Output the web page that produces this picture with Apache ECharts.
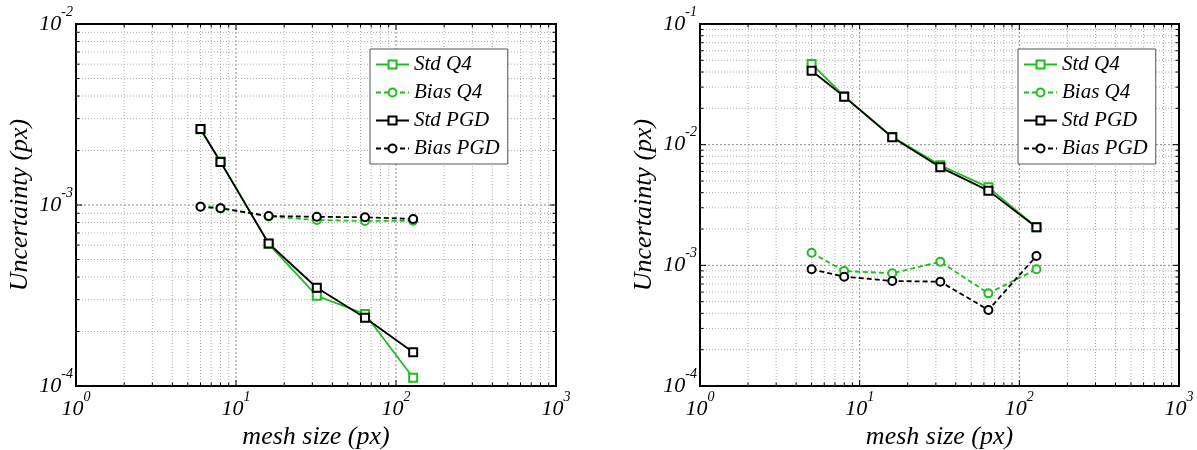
<!DOCTYPE html>
<html>
<head>
<meta charset="utf-8">
<script src="https://cdn.jsdelivr.net/npm/echarts@6/dist/echarts.min.js"></script>
<style>html,body{margin:0;padding:0;background:#fff;}#c{width:1197px;height:450px;}</style>
</head>
<body>
<div id="c"></div>
<script>
// ---- data ----
const seriesNames = ['Std Q4', 'Bias Q4', 'Std PGD', 'Bias PGD'];

const leftMesh    = [6, 8, 16, 32, 64, 128];
const leftStdQ4   = [2.62e-3, 1.74e-3, 6.10e-4, 3.15e-4, 2.50e-4, 1.11e-4];
const leftBiasQ4  = [9.80e-4, 9.60e-4, 8.65e-4, 8.26e-4, 8.16e-4, 8.19e-4];
const leftStdPGD  = [2.63e-3, 1.73e-3, 6.13e-4, 3.49e-4, 2.38e-4, 1.535e-4];
const leftBiasPGD = [9.79e-4, 9.59e-4, 8.69e-4, 8.61e-4, 8.55e-4, 8.37e-4];

const rightMesh    = [5, 8, 16, 32, 64, 128];
const rightStdQ4   = [4.66e-2, 2.52e-2, 1.16e-2, 6.75e-3, 4.43e-3, 2.07e-3];
const rightBiasQ4  = [1.27e-3, 8.98e-4, 8.59e-4, 1.07e-3, 5.86e-4, 9.27e-4];
const rightStdPGD  = [4.10e-2, 2.50e-2, 1.15e-2, 6.49e-3, 4.16e-3, 2.07e-3];
const rightBiasPGD = [9.27e-4, 8.05e-4, 7.42e-4, 7.32e-4, 4.27e-4, 1.195e-3];

const xRange = [1, 1000];
const leftYRange = [1e-4, 1e-2];
const rightYRange = [1e-4, 1e-1];

const xAxisTitle = 'mesh size (px)';
const yAxisTitle = 'Uncertainty (px)';

// ---- styles ----
const GREEN = '#1ebe1e';
const BLACK = '#000000';
const SERIF = '"Liberation Serif", "DejaVu Serif", serif';

function decadeValues(r, includeMajor) {
  const out = [];
  const k0 = Math.round(Math.log10(r[0])), k1 = Math.round(Math.log10(r[1]));
  for (let k = k0; k < k1; k++) {
    for (let m = 1; m <= 9; m++) {
      if (m === 1 && k === k0) continue;
      if ((m === 1) === includeMajor) out.push(m * Math.pow(10, k));
    }
  }
  return out;
}

const richLabel = {
  b: {fontSize: 22, fontStyle: 'italic', fontFamily: SERIF, color: '#000', lineHeight: 22},
  s: {fontSize: 14, fontStyle: 'italic', fontFamily: SERIF, color: '#000', lineHeight: 14, padding: [0, 0, 24, 0]}
};
function powFmt(v) {
  const e = Math.round(Math.log10(v));
  return '{b|10}{s|' + e + '}';
}

function gridSeries(idx, xr, yr, vertical, major) {
  const vals = vertical ? decadeValues(xr, major) : decadeValues(yr, major);
  return {
    type: 'custom', xAxisIndex: idx, yAxisIndex: idx, silent: true, z: 1,
    data: vals.map(v => vertical ? [v, yr[0]] : [xr[0], v]),
    renderItem: function (params, api) {
      const v = api.value(vertical ? 0 : 1);
      let a, b;
      if (vertical) { a = api.coord([v, yr[0]]); b = api.coord([v, yr[1]]); }
      else { a = api.coord([xr[0], v]); b = api.coord([xr[1], v]); }
      const L = major ? 6 : 3.5;
      const gs = major ? {stroke: '#8a8a8a', lineWidth: 1, lineDash: [2, 2]} : {stroke: '#b0b0b0', lineWidth: 1, lineDash: [1, 2]};
      const ts = {stroke: '#000', lineWidth: 1};
      const children = [{type: 'line', shape: {x1: a[0], y1: a[1], x2: b[0], y2: b[1]}, style: gs}];
      if (vertical) {
        children.push({type: 'line', shape: {x1: a[0], y1: a[1], x2: a[0], y2: a[1] - L}, style: ts});
        children.push({type: 'line', shape: {x1: b[0], y1: b[1], x2: b[0], y2: b[1] + L}, style: ts});
      } else {
        children.push({type: 'line', shape: {x1: a[0], y1: a[1], x2: a[0] + L, y2: a[1]}, style: ts});
        children.push({type: 'line', shape: {x1: b[0], y1: b[1], x2: b[0] - L, y2: b[1]}, style: ts});
      }
      return {type: 'group', children: children};
    }
  };
}

function dataSeries(idx, name, xs, ys, color, dashed, symbol) {
  return {
    type: 'line', name: name, xAxisIndex: idx, yAxisIndex: idx, z: 3,
    data: xs.map((x, i) => [x, ys[i]]),
    symbol: symbol, symbolSize: 8,
    lineStyle: {color: color, width: 1.8, type: dashed ? [5, 3] : 'solid'},
    itemStyle: {color: color, borderColor: color, borderWidth: 1.6},
    emphasis: {disabled: true},
    animation: false
  };
}

function axisPair(idx, yr) {
  const x = {
    type: 'log', logBase: 10, gridIndex: idx, min: xRange[0], max: xRange[1],
    axisLine: {show: false}, axisTick: {show: false}, splitLine: {show: false},
    axisLabel: {formatter: powFmt, rich: richLabel, margin: 12},
    name: xAxisTitle, nameLocation: 'middle', nameGap: 38, nameMoveOverlap: false,
    nameTextStyle: {fontSize: 26, fontStyle: 'italic', fontFamily: SERIF, color: '#000'}
  };
  const y = {
    type: 'log', logBase: 10, gridIndex: idx, min: yr[0], max: yr[1],
    axisLine: {show: false}, axisTick: {show: false}, splitLine: {show: false},
    axisLabel: {formatter: powFmt, rich: richLabel, margin: 3},
    name: yAxisTitle, nameLocation: 'middle', nameGap: 43, nameRotate: 90, nameMoveOverlap: false,
    nameTextStyle: {fontSize: 26, fontStyle: 'italic', fontFamily: SERIF, color: '#000'}
  };
  return [x, y];
}

const [lx, ly] = axisPair(0, leftYRange);
const [rx, ry] = axisPair(1, rightYRange);

function legendAt(left) {
  return {
    left: left, top: 49, orient: 'vertical',
    data: seriesNames,
    backgroundColor: '#fff', borderColor: '#555', borderWidth: 1,
    padding: [5, 8, 5, 5], itemWidth: 33, itemHeight: 10, itemGap: 7,
    textStyle: {fontSize: 21, fontStyle: 'italic', fontFamily: SERIF, color: '#000'},
    selectedMode: false
  };
}

const series = [];
[[0, xRange, leftYRange], [1, xRange, rightYRange]].forEach(([i, xr, yr]) => {
  series.push(gridSeries(i, xr, yr, true, false));
  series.push(gridSeries(i, xr, yr, true, true));
  series.push(gridSeries(i, xr, yr, false, false));
  series.push(gridSeries(i, xr, yr, false, true));
});
series.push(dataSeries(0, 'Std Q4', leftMesh, leftStdQ4, GREEN, false, 'emptyRect'));
series.push(dataSeries(0, 'Bias Q4', leftMesh, leftBiasQ4, GREEN, true, 'emptyCircle'));
series.push(dataSeries(0, 'Std PGD', leftMesh, leftStdPGD, BLACK, false, 'emptyRect'));
series.push(dataSeries(0, 'Bias PGD', leftMesh, leftBiasPGD, BLACK, true, 'emptyCircle'));
series.push(dataSeries(1, 'Std Q4', rightMesh, rightStdQ4, GREEN, false, 'emptyRect'));
series.push(dataSeries(1, 'Bias Q4', rightMesh, rightBiasQ4, GREEN, true, 'emptyCircle'));
series.push(dataSeries(1, 'Std PGD', rightMesh, rightStdPGD, BLACK, false, 'emptyRect'));
series.push(dataSeries(1, 'Bias PGD', rightMesh, rightBiasPGD, BLACK, true, 'emptyCircle'));

const chart = echarts.init(document.getElementById('c'), null, {renderer: 'canvas'});
chart.setOption({
  animation: false,
  backgroundColor: '#fff',
  grid: [
    {left: 76, top: 24, width: 480, height: 362, show: true, borderColor: '#000', borderWidth: 2, backgroundColor: 'transparent', containLabel: false, outerBoundsMode: 'none'},
    {left: 700, top: 24, width: 479, height: 362, show: true, borderColor: '#000', borderWidth: 2, backgroundColor: 'transparent', containLabel: false, outerBoundsMode: 'none'}
  ],
  xAxis: [lx, rx],
  yAxis: [ly, ry],
  legend: [legendAt(370), legendAt(1018)],
  series: series
});
</script>
</body>
</html>
